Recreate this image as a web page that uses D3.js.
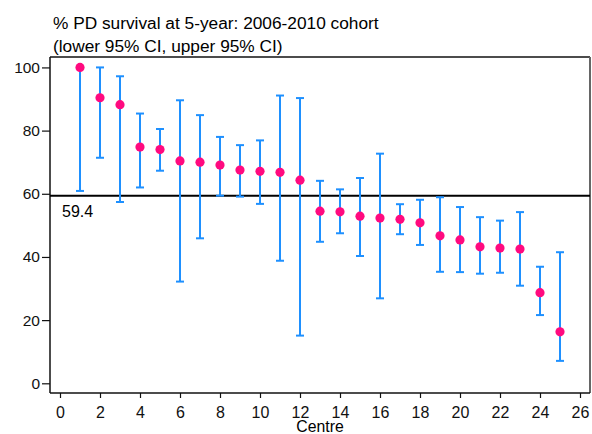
<!DOCTYPE html>
<html>
<head>
<meta charset="utf-8">
<script src="https://cdn.jsdelivr.net/npm/d3@7"></script>
<style>
  html, body { margin: 0; padding: 0; background: #fff; }
  svg { display: block; font-family: "Liberation Sans", Arial, sans-serif; }
</style>
</head>
<body>
<svg id="chart" width="592" height="434"></svg>
<script>
// Centre-level 5-year PD survival estimates with 95% confidence limits
const centres = d3.range(1, 26);
const survival = [100, 90.4, 88.2, 74.8, 74.0, 70.4, 70.0, 69.1, 67.5, 67.1, 66.8, 64.3,
                  54.5, 54.3, 52.9, 52.3, 51.9, 50.8, 46.7, 45.4, 43.2, 42.8, 42.5, 28.7, 16.3];
const lowerCI  = [60.9, 71.4, 57.4, 62.0, 67.3, 32.2, 45.9, 59.4, 59.1, 56.8, 38.8, 15.1,
                  44.8, 47.5, 40.3, 26.9, 47.2, 43.8, 35.3, 35.2, 34.7, 35.0, 30.9, 21.6, 7.1];
const upperCI  = [100, 100, 97.2, 85.4, 80.5, 89.6, 84.9, 78.0, 75.4, 76.9, 91.1, 90.3,
                  64.1, 61.4, 65.0, 72.7, 56.7, 58.1, 58.9, 55.8, 52.6, 51.5, 54.2, 36.9, 41.5];
const overallMean = 59.4;
const xTicks = d3.range(0, 27, 2);
const yTicks = [0, 20, 40, 60, 80, 100];

const svg = d3.select("#chart");
const plotL = 50, plotR = 590, plotT = 57, plotB = 393;

const x = d3.scaleLinear().domain([-0.5, 26.5]).range([plotL, plotR]);
const y = d3.scaleLinear().domain([-3.07, 103.3]).range([plotB, plotT]);

const blue = "#1e90ff", pink = "#ff0a7f";

// title
const title = svg.append("g").attr("font-size", 17.3).attr("fill", "#000");
title.append("text").attr("x", 53).attr("y", 29).text("% PD survival at 5-year: 2006-2010 cohort");
title.append("text").attr("x", 53).attr("y", 52).text("(lower 95% CI, upper 95% CI)");

// frame
svg.append("line").attr("x1", plotL).attr("x2", plotR).attr("y1", plotT).attr("y2", plotT)
  .attr("stroke", "#111").attr("stroke-width", 1.5);
svg.append("line").attr("x1", plotR).attr("x2", plotR).attr("y1", plotT).attr("y2", plotB)
  .attr("stroke", "#666").attr("stroke-width", 2);

// axes
const yAxis = svg.append("g").attr("transform", `translate(${plotL},0)`)
  .call(d3.axisLeft(y).tickValues(yTicks).tickSize(8).tickPadding(2));
const xAxis = svg.append("g").attr("transform", `translate(0,${plotB})`)
  .call(d3.axisBottom(x).tickValues(xTicks).tickSize(5).tickPadding(8.5));
[xAxis, yAxis].forEach(a => {
  a.select(".domain").attr("stroke", "#111").attr("stroke-width", 1.5);
  a.selectAll(".tick line").attr("stroke", "#111").attr("stroke-width", 1.2);
  a.selectAll(".tick text").attr("fill", "#111")
    .attr("font-family", "Liberation Sans, Arial, sans-serif");
});
yAxis.selectAll(".tick text").attr("font-size", 15.5);
xAxis.selectAll(".tick text").attr("font-size", 16);
xAxis.select(".domain").attr("d", `M${plotL},0H${plotR}`);
yAxis.select(".domain").attr("d", `M0,${plotB}V${plotT}`);

svg.append("text").attr("x", 320).attr("y", 431.5)
  .attr("text-anchor", "middle").attr("font-size", 15.8).text("Centre");

// overall mean reference line
svg.append("line").attr("x1", plotL).attr("x2", plotR)
  .attr("y1", y(overallMean)).attr("y2", y(overallMean))
  .attr("stroke", "#000").attr("stroke-width", 2);
svg.append("text").attr("x", 62).attr("y", y(overallMean) + 21)
  .attr("font-size", 16).text(overallMean.toFixed(1));

// confidence intervals
const rows = centres.map((c, i) => ({ c, v: survival[i], lo: lowerCI[i], hi: upperCI[i] }));
const cap = 4;
const bars = svg.append("g").attr("stroke", blue).attr("stroke-width", 2).attr("fill", "none");
rows.forEach(d => {
  bars.append("line").attr("x1", x(d.c)).attr("x2", x(d.c)).attr("y1", y(d.lo)).attr("y2", y(d.hi));
  bars.append("line").attr("x1", x(d.c) - cap).attr("x2", x(d.c) + cap).attr("y1", y(d.lo)).attr("y2", y(d.lo));
  bars.append("line").attr("x1", x(d.c) - cap).attr("x2", x(d.c) + cap).attr("y1", y(d.hi)).attr("y2", y(d.hi));
});

// point estimates
svg.append("g").selectAll("circle").data(rows).join("circle")
  .attr("cx", d => x(d.c)).attr("cy", d => y(d.v)).attr("r", 4.6).attr("fill", pink);
</script>
</body>
</html>
